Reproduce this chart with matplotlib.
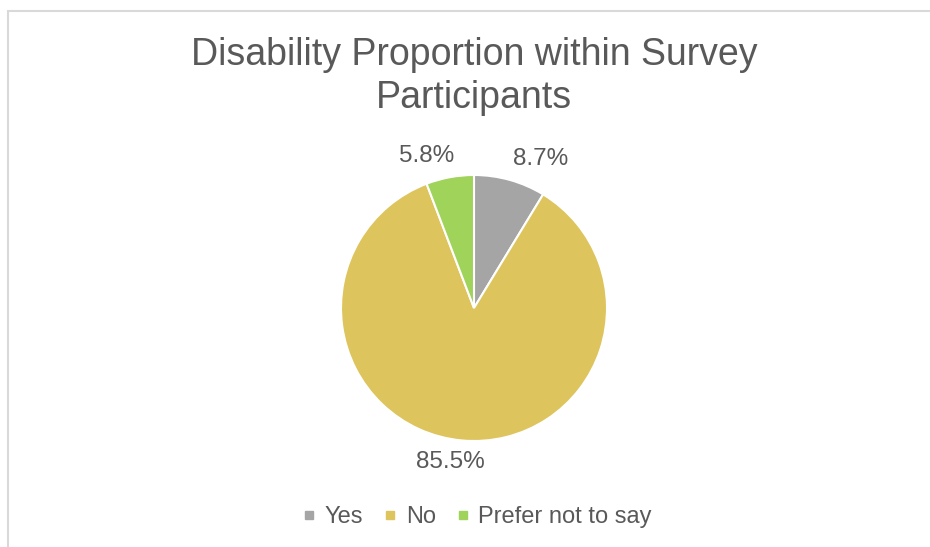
import matplotlib.pyplot as plt
from matplotlib.lines import Line2D
from matplotlib.patches import Rectangle

plt.rcParams['font.family'] = ['Liberation Sans', 'DejaVu Sans']

# chart data
categories = ['Yes', 'No', 'Prefer not to say']
shares = [8.7, 85.5, 5.8]
colors = ['#A5A5A5', '#DEC45C', '#9FD35A']
title = 'Disability Proportion within Survey\nParticipants'
text_color = '#595959'

W, H = 930, 547
fig = plt.figure(figsize=(W / 100, H / 100), dpi=100)

# light border round the chart area (runs off the right and bottom edge)
fig.patches.append(Rectangle((8 / W, -0.05), 1.0, 1 - 11 / H + 0.05,
                             transform=fig.transFigure, fill=False,
                             edgecolor='#D9D9D9', linewidth=1.5))

# pie axes placed so the centre is at about (474, 308) px, radius ~133 px
size = 133 * 2.5
ax = fig.add_axes([474 / W - size / W / 2, 1 - 308 / H - size / H / 2,
                   size / W, size / H])

wedges, texts, pcts = ax.pie(
    shares, colors=colors, startangle=90, counterclock=False,
    autopct='%.1f%%', pctdistance=1.08,
    wedgeprops=dict(edgecolor='white', linewidth=1.5),
    textprops=dict(color=text_color, fontsize=17.5))

# outside-end style labels
for t in pcts:
    x, y = t.get_position()
    if abs(x) < 0.15:
        t.set_ha('center')
        t.set_x(x - 0.08)
    else:
        t.set_ha('left' if x > 0 else 'right')
        if x < 0:
            t.set_x(x + 0.05)
    t.set_va('bottom' if y > 0 else 'top')

fig.text(474 / W, 1 - 37 / H, title, ha='center', va='top',
         fontsize=27, color=text_color, linespacing=1.25)

handles = [Line2D([], [], marker='s', linestyle='', markersize=6,
                  markerfacecolor=c, markeredgecolor=c) for c in colors]
fig.legend(handles, categories, loc='center', ncol=3, frameon=False,
           bbox_to_anchor=(477 / W, 1 - 517 / H), fontsize=17,
           labelcolor=text_color, handlelength=0.6, handletextpad=0.35,
           columnspacing=0.85)

fig.savefig('out.png', dpi=100)
